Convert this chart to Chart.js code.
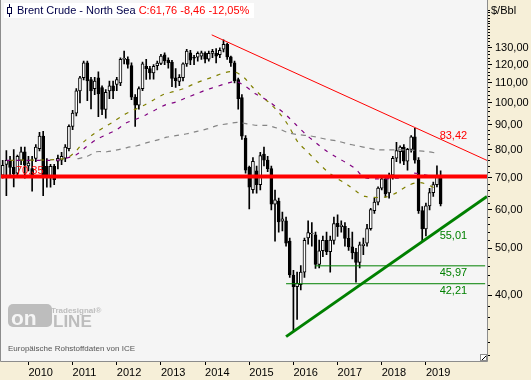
<!DOCTYPE html>
<html><head><meta charset="utf-8">
<script src="https://cdn.jsdelivr.net/npm/chart.js@4.4.1/dist/chart.umd.min.js"></script>
<style>html,body{margin:0;padding:0;background:#F6EFD8;}canvas{display:block}</style>
</head><body>
<canvas id="c" width="531" height="380"></canvas>
<script>
// Monthly candles, first candle = June 2009
const firstYear = 2009, firstMonth = 6;
const open = [70.8,74.6,76.0,73.5,71.5,76.0,79.2,74.0,73.1,76.7,
80.4,85.3,73.9,70.5,73.9,75.7,76.1,76.8,80.4,89.4,
95.2,105.9,112.7,121.0,111.8,107.0,112.7,107.6,96.9,105.9,
108.5,109.2,110.0,123.0,123.1,119.5,102.8,98.9,107.0,119.0,
117.7,115.4,119.4,120.7,125.7,122.6,121.4,112.7,110.7,112.7,
120.4,126.9,124.2,124.4,125.0,126.6,123.1,126.6,126.6,125.8,
129.2,132.2,124.5,121.0,111.8,102.6,84.5,73.5,66.1,72.3,
67.7,78.3,76.1,73.1,61.7,62.6,56.9,57.0,51.7,44.0,
41.6,42.0,44.6,52.5,53.5,53.3,46.3,49.4,51.9,49.2,
51.9,56.3,55.4,55.5,52.4,50.3,49.1,46.7,50.6,51.2,
54.9,59.8,62.3,66.6,69.6,65.1,70.8,76.8,79.2,81.0,
75.7,80.1,85.0,76.1,59.8,54.8,61.2,65.2,67.7,70.22];
const high = [76.0,79.6,77.5,80.0,78.0,81.0,81.0,77.5,77.5,82.0,
86.9,87.3,76.7,74.6,74.6,78.0,79.0,82.0,90.0,96.5,
107.0,113.5,122.0,122.0,113.0,113.0,116.0,108.5,106.5,111.0,
111.0,113.0,124.0,128.0,124.5,121.0,104.0,108.0,121.5,123.1,
119.0,120.0,122.0,126.0,127.0,124.0,122.5,117.7,114.5,121.0,
129.0,128.5,125.5,127.5,128.0,127.5,128.0,129.0,129.6,130.0,
135.0,133.0,125.0,122.0,112.5,104.0,85.5,74.0,77.0,74.0,
79.0,81.0,77.5,74.0,66.0,63.5,59.4,58.0,52.5,45.0,
44.6,46.0,52.5,57.0,56.5,54.0,52.0,53.0,54.0,53.0,
58.0,58.6,57.0,56.5,55.0,54.0,50.0,51.5,52.5,56.0,
60.5,63.5,67.0,70.5,70.0,71.5,77.5,82.8,81.5,82.0,
80.5,85.5,88.6,77.0,61.0,62.0,66.5,68.5,74.1,72.3];
const low = [69.8,64.2,70.5,67.0,70.8,74.5,69.8,72.3,65.6,75.5,
79.5,64.2,66.9,66.9,67.7,73.0,74.5,75.5,79.5,88.0,
94.0,100.0,111.5,101.0,97.2,104.0,93.6,94.5,93.0,102.0,
102.0,106.0,108.5,120.4,118.0,101.5,89.4,97.0,106.0,111.8,
112.0,112.0,117.0,120.0,120.0,118.0,108.0,107.6,108.5,111.0,
119.0,120.0,120.0,122.0,123.0,121.0,122.0,124.0,121.0,124.0,
127.5,123.0,119.0,110.0,97.0,84.0,71.5,60.3,65.0,65.0,
66.0,74.0,72.0,60.0,51.7,54.0,54.3,50.5,43.5,33.7,
35.6,41.0,43.5,51.0,50.5,45.4,45.5,48.0,48.5,44.6,
51.0,52.9,54.0,50.5,49.5,47.5,42.5,45.5,48.5,50.5,
54.5,59.0,61.5,66.0,63.8,63.5,69.5,75.5,75.0,74.5,
72.5,79.0,75.0,59.0,51.7,53.0,60.0,64.0,67.0,61.2];
const close = [74.2,76.0,73.5,71.3,77.5,79.2,74.3,75.0,70.9,81.0,
85.3,70.5,70.5,73.9,69.3,76.8,77.5,81.0,89.4,95.2,
105.9,112.7,121.0,111.0,105.9,111.0,104.3,96.9,105.2,108.5,
105.9,111.8,123.0,123.5,120.1,102.8,98.9,107.0,120.4,117.7,
115.4,119.0,120.9,125.0,122.2,121.1,112.4,111.1,113.0,120.4,
128.0,122.6,123.7,126.6,126.9,123.1,126.6,127.8,125.0,128.4,
132.2,124.5,121.0,111.0,102.0,85.3,72.5,66.9,75.7,67.7,
77.8,76.1,73.1,61.7,63.0,56.7,57.5,51.2,44.0,41.6,
42.3,44.6,51.9,53.9,53.6,46.3,49.4,51.9,49.2,52.0,
56.2,55.4,55.8,52.4,50.3,48.9,46.7,50.8,51.0,54.9,
60.1,62.3,66.6,69.6,64.8,70.8,76.8,79.6,81.0,75.7,
80.1,85.0,76.1,59.8,54.8,61.2,65.2,67.7,70.22,61.76];

const yearLabels = ['2010','2011','2012','2013','2014','2015','2016','2017','2018','2019'];
const priceTicks = [40,50,60,70,80,90,100,110,120,130];

// moving averages (month index, value)
const olivMonths = [2,17,20,22,25,27.5,30,33,35.7,38.4,41.1,43.8,46.5,49.3,52,54.7,57.4,60.1,62.9,65.6,67.8,70.2,72.9,75.4,77.5,80.2,83,85.4,88.1,90.8,93.6,96.3,98.5,103.9,107.1,110.1,113.4,117.5];
const olivValues = [76.0,76.7,79.6,83.0,86.5,89.0,91.3,94.5,96.7,98.9,101.5,104.2,105.5,107.1,109.5,111.5,113.3,115.4,116.0,112.8,108.0,103.6,99.3,94.8,90.1,83.0,78.9,75.6,72.2,69.8,67.7,65.4,64.0,63.8,65.2,67.4,68.4,66.6];
const purpMonths = [1,7,12.4,14.7,19.9,22.8,25.5,28.3,31,33.5,36.2,38.9,41.7,44.4,47.1,49.8,52.5,55.2,58,60.7,63.4,65.7,68.8,71.6,74.3,77,79.7,82.4,85.1,87.9,90.6,93.3,96,97.9,100.9,106.9,109.6,111.8,117];
const purpValues = [76.0,76.0,76.0,76.0,78.0,81.2,84.0,86.0,88.0,90.8,92.5,94.4,96.9,99.2,100.4,102.4,104.3,106.3,108.0,109.6,110.7,108.5,104.3,101.5,98.1,94.4,90.1,86.0,82.7,79.6,77.2,75.2,72.9,70.3,69.6,69.8,70.3,71.5,70.3];
const grayMonths = [20.3,23,25.5,28.3,31.1,33.8,36.5,39.2,41.9,44.6,47.4,50.1,52.8,55.5,58.2,61,63.7,66.4,69.1,71.8,74.5,77.3,80,82.7,85.4,88.1,90.8,93.6,96.3,99,101.7,104.7,107.4,110.1,112.8,115.5,118.3];
const grayValues = [76.6,77.5,79.2,79.2,79.9,80.8,81.5,82.7,83.7,84.9,85.6,86.3,87.3,88.3,89.7,90.5,91.1,90.5,89.8,89.8,88.7,86.9,86.0,85.6,84.9,84.0,83.4,82.3,81.5,80.7,80.0,79.9,79.9,79.9,79.6,79.2,78.6];

// trend lines and levels
const resistMonths = [56.8,131.6], resistValues = [138.3,76.0];
const supportMonths = [77.0,131.6], supportValues = [32.8,64.0];
const keyLevel = 70.35;
const lowLevels = [45.97, 42.21];
const lowLevelStart = [84.9, 77.0];
const trendReadings = [83.42, 55.01];

const FONT = '"Liberation Sans", Arial, sans-serif';
const fmt = v => v.toFixed(2).replace('.', ',');
const idx = open.map((_, i) => i);
const lastIdx = open.length - 1;
const xMin = -0.46, xMax = 131.6;

const decor = {
  id: 'decor',
  beforeDraw(chart) {
    const {ctx, chartArea: a, width, height} = chart;
    ctx.save();
    ctx.fillStyle = '#F6EFD8';
    ctx.fillRect(0, 0, width, height);
    ctx.fillStyle = '#F5F5F5';
    ctx.fillRect(0, 0, a.right, a.bottom);
    // watermark
    ctx.fillStyle = '#BDBDBD';
    ctx.beginPath();
    ctx.roundRect(8, 304, 44, 23, 5);
    ctx.fill();
    ctx.fillStyle = '#F5F5F5';
    ctx.font = 'bold 21px ' + FONT;
    ctx.textBaseline = 'alphabetic';
    ctx.fillText('on', 11, 325);
    ctx.fillStyle = '#BDBDBD';
    ctx.font = 'bold 17px ' + FONT;
    ctx.fillText('LINE', 53, 327);
    ctx.font = 'bold 8px ' + FONT;
    ctx.fillText('Tradesignal\u00AE', 51, 313);
    ctx.fillStyle = '#555555';
    ctx.font = '8px ' + FONT;
    ctx.fillText('Europ\u00E4ische Rohstoffdaten von ICE', 8, 351);
    ctx.restore();
  },
  afterDatasetsDraw(chart) {
    const {ctx, scales: {x, y}} = chart;
    ctx.save();
    ctx.font = '11px ' + FONT;
    ctx.textBaseline = 'alphabetic';
    ctx.textAlign = 'left';
    const lx = x.getPixelForValue(lastIdx) - 1;
    ctx.fillStyle = '#FF0000';
    ctx.fillText(fmt(trendReadings[0]), lx, y.getPixelForValue(trendReadings[0]) - 2);
    ctx.fillText(fmt(keyLevel), 16, y.getPixelForValue(keyLevel) - 3);
    ctx.fillStyle = '#008000';
    ctx.fillText(fmt(trendReadings[1]), lx, y.getPixelForValue(trendReadings[1]) + 10.5);
    lowLevels.forEach(v => ctx.fillText(fmt(v), lx, y.getPixelForValue(v) + 10));
    ctx.restore();
  },
  afterDraw(chart) {
    const {ctx, chartArea: a, scales: {y}} = chart;
    ctx.save();
    // plot border
    ctx.strokeStyle = '#8C8C8C';
    ctx.lineWidth = 1;
    ctx.beginPath();
    ctx.moveTo(0.5, 0); ctx.lineTo(0.5, a.bottom + 0.5);
    ctx.lineTo(a.right + 0.5, a.bottom + 0.5); ctx.lineTo(a.right + 0.5, 0);
    ctx.stroke();
    // resize grip
    ctx.fillStyle = '#FFFFFF';
    ctx.fillRect(a.right - 7, a.bottom - 7, 7, 7);
    ctx.strokeStyle = '#8C8C8C';
    ctx.strokeRect(a.right - 6.5, a.bottom - 6.5, 6, 6);
    ctx.strokeStyle = '#000';
    ctx.beginPath(); ctx.moveTo(a.right - 5, a.bottom - 1); ctx.lineTo(a.right - 1, a.bottom - 5); ctx.stroke();
    // minor y ticks
    ctx.strokeStyle = '#000';
    for (let v = 30; v <= 156; v += 2) {
      if (v % 10 === 0 && v >= 40 && v <= 130) continue;
      const py = Math.round(y.getPixelForValue(v)) + 0.5;
      ctx.beginPath(); ctx.moveTo(a.right + 1, py); ctx.lineTo(a.right + 3, py); ctx.stroke();
    }
    // unit
    ctx.fillStyle = '#000';
    ctx.font = '11px ' + FONT;
    ctx.textBaseline = 'middle';
    ctx.fillText('$/Bbl', 491, 10.5);
    // title box
    ctx.fillStyle = '#FFFFFF';
    ctx.fillRect(4, 3, 250, 15);
    ctx.strokeStyle = '#000040';
    ctx.beginPath(); ctx.moveTo(9.5, 4); ctx.lineTo(9.5, 17); ctx.stroke();
    ctx.fillStyle = '#FFFFFF';
    ctx.fillRect(7.5, 7.5, 4, 6);
    ctx.strokeRect(7.5, 7.5, 4, 6);
    ctx.font = '11px ' + FONT;
    ctx.fillStyle = '#00004A';
    const t1 = 'Brent Crude - North Sea ';
    ctx.fillText(t1, 17, 11);
    ctx.fillStyle = '#FF0000';
    ctx.fillText('C:61,76 -8,46 -12,05%', 17 + ctx.measureText(t1).width, 11);
    ctx.restore();
  }
};

const toPts = (ms, vs) => ms.map((m, i) => ({x: m, y: vs[i]}));

new Chart(document.getElementById('c'), {
  data: {
    datasets: [
      {type: 'bar', order: 10, grouped: false, barThickness: 1, borderWidth: 0,
       backgroundColor: '#000', data: idx.map(i => ({x: i, y: [low[i], high[i]]}))},
      {type: 'bar', order: 9, grouped: false, barThickness: 3, borderWidth: 1, borderColor: '#000',
       borderSkipped: false, minBarLength: 1,
       backgroundColor: idx.map(i => close[i] >= open[i] ? '#FFFFFF' : '#000000'),
       data: idx.map(i => ({x: i, y: [Math.min(open[i], close[i]), Math.max(open[i], close[i])]}))},
      {type: 'line', order: 5, data: toPts(grayMonths, grayValues), borderColor: '#858585', borderWidth: 1.2, borderDash: [5, 5], pointRadius: 0, tension: 0.3},
      {type: 'line', order: 5, data: toPts(purpMonths, purpValues), borderColor: '#800080', borderWidth: 1.2, borderDash: [4, 6], pointRadius: 0, tension: 0.3},
      {type: 'line', order: 5, data: toPts(olivMonths, olivValues), borderColor: '#808000', borderWidth: 1.2, borderDash: [4, 6], pointRadius: 0, tension: 0.3},
      {type: 'line', order: 2, data: [{x: xMin, y: keyLevel}, {x: xMax, y: keyLevel}], borderColor: '#FF0000', borderWidth: 4, pointRadius: 0},
      {type: 'line', order: 2, data: [{x: lowLevelStart[0], y: lowLevels[0]}, {x: xMax - 0.5, y: lowLevels[0]}], borderColor: '#008000', borderWidth: 1, pointRadius: 0},
      {type: 'line', order: 2, data: [{x: lowLevelStart[1], y: lowLevels[1]}, {x: xMax - 0.5, y: lowLevels[1]}], borderColor: '#008000', borderWidth: 1, pointRadius: 0},
      {type: 'line', order: 1, data: toPts(resistMonths, resistValues), borderColor: '#FF0000', borderWidth: 1, pointRadius: 0},
      {type: 'line', order: 1, data: toPts(supportMonths, supportValues), borderColor: '#008000', borderWidth: 3, pointRadius: 0}
    ]
  },
  options: {
    responsive: false, animation: false, devicePixelRatio: 1,
    layout: {padding: {left: 1, top: 0, right: 0, bottom: 0}},
    plugins: {legend: {display: false}, tooltip: {enabled: false}},
    scales: {
      x: {
        type: 'linear', min: xMin, max: xMax, offset: false,
        grid: {drawOnChartArea: false, drawTicks: true, tickLength: 4, color: '#000', offset: false},
        border: {display: false},
        afterBuildTicks: s => { s.ticks = yearLabels.map((yl, j) => ({value: (Number(yl) - firstYear) * 12 + 1 - firstMonth})); },
        ticks: {autoSkip: false, maxRotation: 0, align: 'start', padding: 1, color: '#000',
                font: {family: FONT, size: 11},
                callback: v => String(firstYear + Math.floor((v + firstMonth - 1) / 12))},
        afterFit: s => { s.height = 19; }
      },
      y: {
        type: 'logarithmic', position: 'right', min: 29.2, max: 156,
        grid: {drawOnChartArea: false, drawTicks: true, tickLength: 5, color: '#000'},
        border: {display: false},
        afterBuildTicks: s => { s.ticks = priceTicks.map(v => ({value: v})); },
        ticks: {autoSkip: false, padding: 3, color: '#000', font: {family: FONT, size: 11},
                callback: v => fmt(v)},
        afterFit: s => { s.width = 44; }
      }
    }
  },
  plugins: [decor]
});
</script>
</body></html>
